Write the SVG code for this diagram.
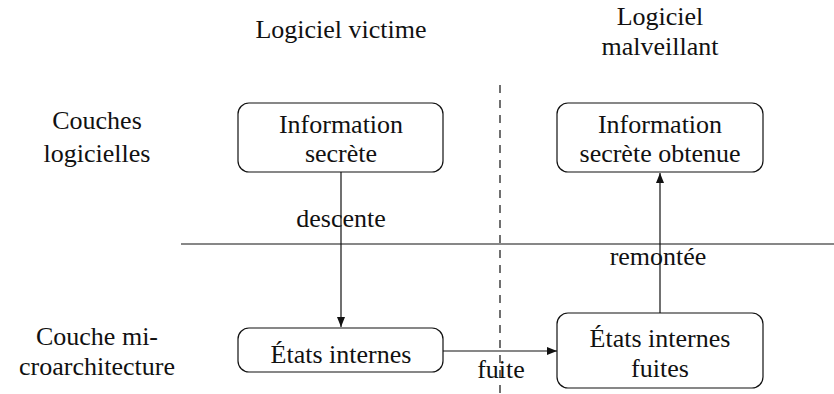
<svg xmlns="http://www.w3.org/2000/svg" width="834" height="394" viewBox="0 0 834 394">
<style>
text{font-family:"Liberation Serif","DejaVu Serif",serif;font-size:26px;fill:#111;text-anchor:middle}
.box{fill:#fff;stroke:#111;stroke-width:1.2}
.ln{stroke:#111;stroke-width:1.2;fill:none}
</style>
<defs>
<marker id="ah" viewBox="0 0 10 8" refX="10" refY="4" markerWidth="10" markerHeight="8" markerUnits="userSpaceOnUse" orient="auto">
<path d="M0,0 L10,4 L0,8 Z" fill="#111"/>
</marker>
</defs>
<g id="labels">
<text x="341" y="38">Logiciel victime</text>
<text x="660" y="25">Logiciel</text>
<text x="660" y="55">malveillant</text>
<text x="97" y="129">Couches</text>
<text x="97" y="162">logicielles</text>
<text x="97" y="345">Couche mi-</text>
<text x="97" y="375">croarchitecture</text>
</g>
<g id="separators">
<line class="ln" x1="181" y1="244" x2="834" y2="244"/>
<line class="ln" x1="500" y1="85" x2="500" y2="394" stroke-dasharray="8 7"/>
</g>
<g id="connectors">
<line class="ln" x1="341" y1="172" x2="341" y2="327" marker-end="url(#ah)"/>
<line class="ln" x1="443" y1="351" x2="557" y2="351" marker-end="url(#ah)"/>
<line class="ln" x1="660" y1="313" x2="660" y2="173" marker-end="url(#ah)"/>
<text x="341" y="227">descente</text>
<text x="501" y="378">fuite</text>
<text x="658" y="265">remontée</text>
</g>
<g id="n1">
<rect class="box" x="238" y="103" width="205" height="69" rx="11"/>
<text x="341" y="133">Information</text>
<text x="341" y="162">secrète</text>
</g>
<g id="n2">
<rect class="box" x="557" y="103" width="206" height="69" rx="11"/>
<text x="660" y="133">Information</text>
<text x="660" y="162">secrète obtenue</text>
</g>
<g id="n3">
<rect class="box" x="238" y="328" width="205" height="44" rx="11"/>
<text x="341" y="363">États internes</text>
</g>
<g id="n4">
<rect class="box" x="557" y="313" width="206" height="75" rx="11"/>
<text x="660" y="347">États internes</text>
<text x="660" y="377">fuites</text>
</g>
</svg>
